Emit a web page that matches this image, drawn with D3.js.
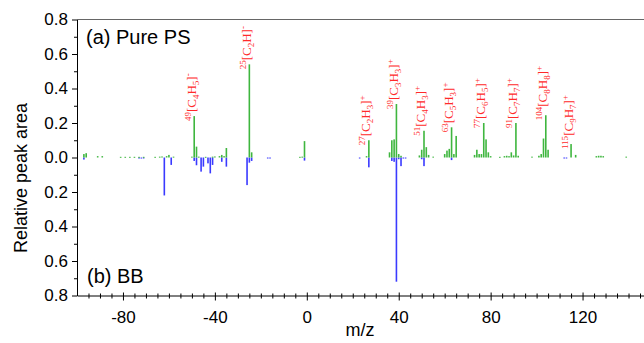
<!DOCTYPE html>
<html>
<head>
<meta charset="utf-8">
<script src="https://cdn.jsdelivr.net/npm/d3@7"></script>
<style>
  body { margin: 0; background: #fff; }
  svg { display: block; }
  .axis text { font-family: "Liberation Sans", Arial, sans-serif; font-size: 17px; fill: #000; }
  .axis path, .axis line { stroke: #000; }
  .ion { font-family: "Liberation Serif", "Times New Roman", serif; fill: #ff2a2a; }
</style>
</head>
<body>
<div id="chart"></div>
<script>
// Pure PS (plotted upward) - m/z and relative peak area
const psMz = [-97, -96, -91, -89, -81, -79, -77, -75, -73, -71, -66, -64, -63, -61, -60, -58,
  -50, -49, -48, -47, -44, -41, -40, -38, -37, -36, -35, -25, -24, -3, -2, -1,
  26, 27, 36, 37, 38, 39, 40, 41, 49, 50, 51, 52, 53, 55, 60, 61, 62, 63, 64, 65,
  73, 74, 75, 76, 77, 78, 79, 80, 84, 86, 87, 88, 89, 90, 91, 92, 98,
  101, 102, 103, 104, 105, 115, 117, 126, 127, 128, 129, 139];
const psArea = [0.02, 0.025, 0.008, 0.008, 0.004, 0.004, 0.004, 0.004, 0.004, 0.004, 0.004, 0.005, 0.006, 0.008, 0.015, 0.005,
  0.005, 0.24, 0.063, 0.005, 0.004, 0.005, 0.006, 0.008, 0.015, 0.008, 0.055, 0.54, 0.03, 0.004, 0.005, 0.095,
  0.008, 0.1, 0.03, 0.1, 0.105, 0.31, 0.02, 0.01, 0.012, 0.045, 0.155, 0.06, 0.015, 0.005, 0.02, 0.04, 0.05, 0.175, 0.02, 0.125,
  0.015, 0.045, 0.02, 0.02, 0.2, 0.105, 0.03, 0.008, 0.004, 0.008, 0.01, 0.008, 0.03, 0.012, 0.2, 0.01, 0.005,
  0.01, 0.02, 0.11, 0.245, 0.045, 0.078, 0.015, 0.008, 0.01, 0.01, 0.008, 0.005];

// BB (plotted downward)
const bbMz = [-97, -73, -72, -71, -62, -59, -49, -48, -46, -45, -43, -42, -41, -37, -35,
  -26, -25, -24, -17, -16, -1, 23, 27, 37, 38, 39, 40, 41, 42, 43, 50, 51, 63, 112, 113];
const bbArea = [0.012, 0.006, 0.006, 0.005, 0.22, 0.043, 0.02, 0.045, 0.082, 0.053, 0.034, 0.092, 0.043, 0.025, 0.053,
  0.16, 0.03, 0.02, 0.006, 0.006, 0.018, 0.006, 0.057, 0.02, 0.025, 0.72, 0.01, 0.05, 0.006, 0.006, 0.01, 0.05, 0.015, 0.005, 0.005];

// labelled ions
const ionMz = [-49, -25, 27, 39, 51, 63, 77, 91, 104, 115];
const ionC = ["4", "2", "2", "3", "4", "5", "6", "7", "8", "9"];
const ionH = ["5", "", "3", "3", "3", "3", "5", "7", "8", "7"];
const ionCharge = ["-", "-", "+", "+", "+", "+", "+", "+", "+", "+"];

const xTicks = [-80, -40, 0, 40, 80, 120];
const yTicks = [0.8, 0.6, 0.4, 0.2, 0, -0.2, -0.4, -0.6, -0.8];

const width = 644, height = 343;
const green = "#3fb63f", blue = "#3a3aff";

const svg = d3.select("#chart").append("svg")
  .attr("width", width)
  .attr("height", height);

const x = d3.scaleLinear().domain([-100, 150]).range([77, 651.5]);
const y = d3.scaleLinear().domain([0.8, -0.8]).range([19.5, 295.5]);

// top frame line
svg.append("line")
  .attr("x1", x(-100)).attr("x2", x(150))
  .attr("y1", y(0.8)).attr("y2", y(0.8))
  .attr("stroke", "#666").attr("stroke-width", 1);

// bars
const barW = 1.6;
const ps = psMz.map((m, i) => ({ mz: m, v: psArea[i] }));
const bb = bbMz.map((m, i) => ({ mz: m, v: bbArea[i] }));

svg.append("g").selectAll("rect")
  .data(bb)
  .enter().append("rect")
  .attr("x", d => x(d.mz) - barW / 2)
  .attr("y", y(0))
  .attr("width", barW)
  .attr("height", d => Math.max(1, y(-d.v) - y(0)))
  .attr("fill", blue);

svg.append("g").selectAll("rect")
  .data(ps)
  .enter().append("rect")
  .attr("x", d => x(d.mz) - barW / 2)
  .attr("y", d => y(d.v))
  .attr("width", barW)
  .attr("height", d => Math.max(1, y(0) - y(d.v)))
  .attr("fill", green);

// y axis (absolute values both ways)
const yAxis = svg.append("g")
  .attr("class", "axis")
  .attr("transform", `translate(${x(-100)},0)`)
  .call(d3.axisLeft(y).tickValues(yTicks).tickSize(5).tickSizeOuter(0)
    .tickFormat(d => Math.abs(d).toFixed(1)));
yAxis.selectAll(".tick text").attr("x", -9);

svg.append("g")
  .attr("class", "axis")
  .attr("transform", `translate(${x(-100)},0)`)
  .call(d3.axisLeft(y).tickValues(d3.range(-0.7, 0.8, 0.2)).tickSize(3).tickSizeOuter(0).tickFormat(""))
  .select(".domain").remove();

// x axis, plain hyphen for negatives like the original
const xAxis = svg.append("g")
  .attr("class", "axis")
  .attr("transform", `translate(0,${y(-0.8)})`)
  .call(d3.axisBottom(x).tickValues(xTicks).tickSize(5).tickSizeOuter(0).tickFormat(d => String(d)));
xAxis.selectAll(".tick line").attr("y1", -3);
xAxis.selectAll(".tick text").attr("y", 15).attr("dy", "0.71em");

const minorX = d3.range(-95, 150, 5).filter(v => v % 40 !== 0);
svg.append("g")
  .attr("class", "axis")
  .attr("transform", `translate(0,${y(-0.8)})`)
  .call(d3.axisBottom(x).tickValues(minorX).tickSize(3).tickSizeOuter(0).tickFormat(""))
  .call(g => g.select(".domain").remove())
  .selectAll(".tick line").attr("y1", -2);

// axis titles
svg.append("text")
  .attr("transform", "translate(27,178) rotate(-90)")
  .attr("text-anchor", "middle")
  .style("font-family", "'Liberation Sans', Arial, sans-serif")
  .style("font-size", "18px")
  .text("Relative peak area");

svg.append("text")
  .attr("x", 360).attr("y", 336)
  .attr("text-anchor", "middle")
  .style("font-family", "'Liberation Sans', Arial, sans-serif")
  .style("font-size", "18px")
  .text("m/z");

// panel captions
svg.append("text")
  .attr("x", 86).attr("y", 44)
  .style("font-family", "'Liberation Sans', Arial, sans-serif")
  .style("font-size", "20px")
  .text("(a) Pure PS");

svg.append("text")
  .attr("x", 87).attr("y", 283)
  .style("font-family", "'Liberation Sans', Arial, sans-serif")
  .style("font-size", "20px")
  .text("(b) BB");

// ion labels, rotated, sitting on top of the green peak
const big = 13, small = 9;
ionMz.forEach((m, i) => {
  const top = y(psArea[psMz.indexOf(m)]);
  const t = svg.append("text")
    .attr("class", "ion")
    .attr("transform", `translate(${x(m) + 1.5},${top + 5}) rotate(-90)`)
    .style("font-size", big + "px");
  t.append("tspan").style("font-size", small + "px").attr("dy", -5).text(Math.abs(m));
  t.append("tspan").attr("dy", 5).text("[C");
  t.append("tspan").style("font-size", small + "px").attr("dy", 3).text(ionC[i]);
  t.append("tspan").attr("dy", -3).text("H");
  if (ionH[i]) {
    t.append("tspan").style("font-size", small + "px").attr("dy", 3).text(ionH[i]);
    t.append("tspan").attr("dy", -3).text("]");
  } else {
    t.append("tspan").text("]");
  }
  t.append("tspan").style("font-size", small + "px").attr("dy", -5).text(ionCharge[i]);
});
</script>
</body>
</html>
